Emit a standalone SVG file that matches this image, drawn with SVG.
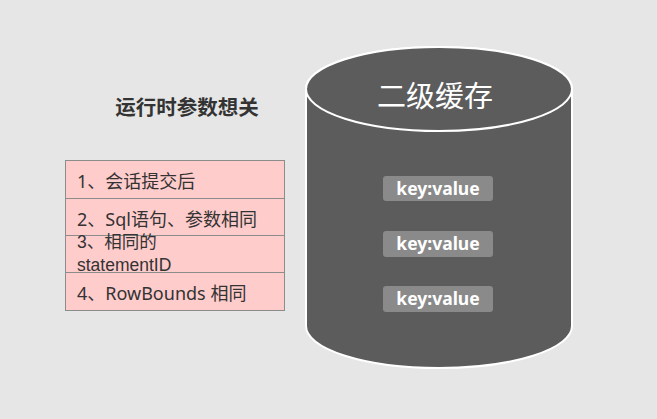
<svg xmlns="http://www.w3.org/2000/svg" width="657" height="419" viewBox="0 0 657 419">
<style>
.bg{fill:#e6e6e6}
.row{fill:#ffcccc;stroke:#8c8c8c;stroke-width:1}
.rt{font-family:"Noto Sans","Noto Sans CJK SC",sans-serif;font-size:18px;fill:#333}
.rt3{font-family:"Liberation Sans","Noto Sans CJK SC",sans-serif;font-size:17.5px;fill:#333}
.title{font-family:"Noto Sans CJK SC",sans-serif;font-size:20.5px;font-weight:bold;fill:#333}
.cyl{fill:#5c5c5c;stroke:#ffffff;stroke-width:2}
.kv{fill:#8a8a8a}
.kvt{font-family:"Noto Sans","Noto Sans CJK SC",sans-serif;font-size:17.5px;font-weight:bold;fill:#fff}
.ct{font-family:"Noto Sans CJK SC",sans-serif;font-size:29px;fill:#fff}
</style>
<rect class="bg" x="0" y="0" width="657" height="419"/>
<g id="title"><text class="title" x="187" y="115" text-anchor="middle">运行时参数想关</text></g>
<g id="row1"><rect class="row" x="65.5" y="160.5" width="219" height="38"/><text class="rt" x="77" y="188">1、会话提交后</text></g>
<g id="row2"><rect class="row" x="65.5" y="198.5" width="219" height="37"/><text class="rt" x="77" y="226">2、Sql语句、参数相同</text></g>
<g id="row3"><rect class="row" x="65.5" y="235.5" width="219" height="37"/><text class="rt3"><tspan x="77" y="248">3、相同的</tspan><tspan x="77" y="271">statementID</tspan></text></g>
<g id="row4"><rect class="row" x="65.5" y="272.5" width="219" height="38"/><text class="rt" x="77" y="300">4、RowBounds 相同</text></g>
<g id="cache">
<path class="cyl" d="M306,89 L306,326 A133,42 0 0 0 572,326 L572,89 A133,42 0 0 0 306,89 Z"/>
<ellipse class="cyl" cx="439" cy="89" rx="133" ry="42"/>
<text class="ct" x="435" y="107" text-anchor="middle">二级缓存</text>
</g>
<g id="kv1"><rect class="kv" x="383" y="176" width="110" height="25" rx="3"/><text class="kvt" x="438" y="195" text-anchor="middle">key:value</text></g>
<g id="kv2"><rect class="kv" x="383" y="231" width="110" height="26" rx="3"/><text class="kvt" x="438" y="250" text-anchor="middle">key:value</text></g>
<g id="kv3"><rect class="kv" x="383" y="286" width="110" height="26" rx="3"/><text class="kvt" x="438" y="305" text-anchor="middle">key:value</text></g>
<g id="connectors"></g>
</svg>
